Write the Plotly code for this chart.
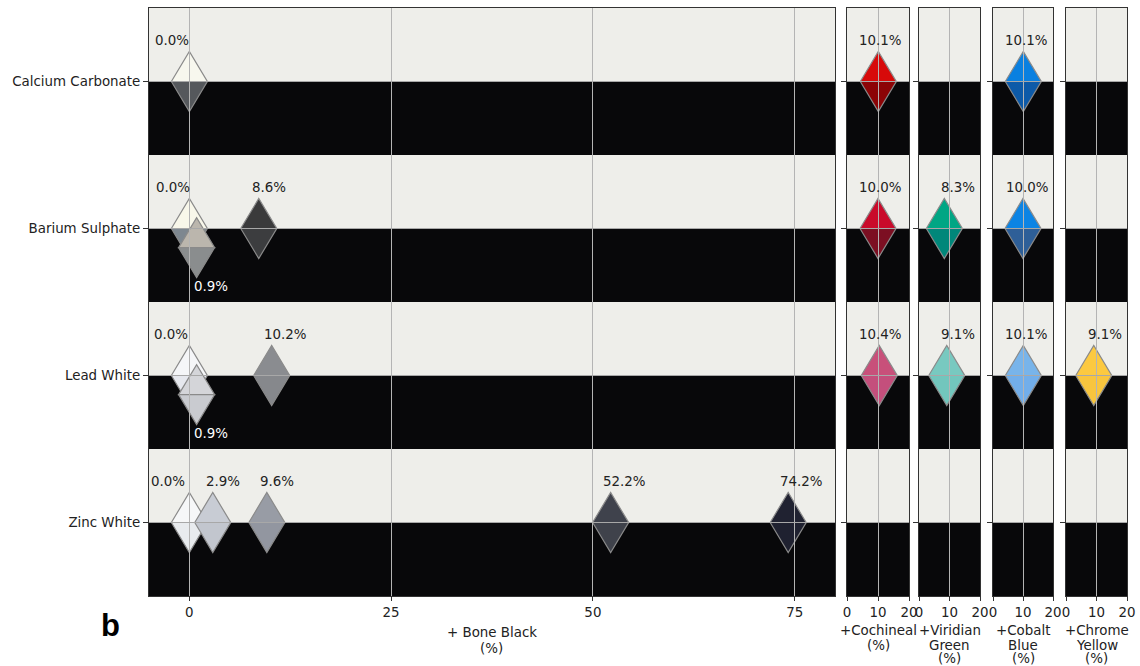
import plotly.graph_objects as go

# ---------------- data ----------------
rows = ["Calcium Carbonate", "Barium Sulphate", "Lead White", "Zinc White"]

# + Bone Black
bb_base = ["Calcium Carbonate", "Barium Sulphate", "Barium Sulphate", "Barium Sulphate",
           "Lead White", "Lead White", "Lead White",
           "Zinc White", "Zinc White", "Zinc White", "Zinc White", "Zinc White"]
bb_pct = [0.0, 0.0, 0.9, 8.6, 0.0, 0.9, 10.2, 0.0, 2.9, 9.6, 52.2, 74.2]
bb_top = ["#f7f7ee", "#f8f7ea", "#bbb6ad", "#3a3a3b", "#f5f6f8", "#d4d5d9", "#8a8c90",
          "#f6f7f8", "#c8ccd4", "#989ca5", "#3f424c", "#202231"]
bb_bottom = ["#55585c", "#7d8790", "#8a8d8e", "#3c3d3f", "#e6e8ee", "#c9cbd0", "#86888c",
             "#e8ebee", "#c2c6ce", "#9296a0", "#3f424b", "#1f2130"]
bb_staggered = [False, False, True, False, False, True, False, False, False, False, False, False]

# + Cochineal
co_base = ["Calcium Carbonate", "Barium Sulphate", "Lead White"]
co_pct = [10.1, 10.0, 10.4]
co_top = ["#d70a0a", "#c90a2a", "#c8507a"]
co_bottom = ["#8c0406", "#7c0f22", "#c44f7c"]

# + Viridian Green
vg_base = ["Barium Sulphate", "Lead White"]
vg_pct = [8.3, 9.1]
vg_top = ["#00a684", "#78c9c0"]
vg_bottom = ["#00877a", "#72c6bd"]

# + Cobalt Blue
cb_base = ["Calcium Carbonate", "Barium Sulphate", "Lead White"]
cb_pct = [10.1, 10.0, 10.1]
cb_top = ["#0a80e0", "#0c84e4", "#78b4ea"]
cb_bottom = ["#0d5aa8", "#2e5f98", "#72aeea"]

# + Chrome Yellow
cy_base = ["Lead White"]
cy_pct = [9.1]
cy_top = ["#fcc940"]
cy_bottom = ["#f8c53e"]

main_ticks = [0, 25, 50, 75]
small_ticks = [0, 10, 20]

# label nudges (pixels) to keep percentage labels readable
bb_label_dx = [-17, -16, 14, 10, -18, 14, 14, -21, 10, 10, 14, 13]
co_label_dx = [2, 2, 1]
vg_label_dx = [14, 11]
cb_label_dx = [3, 4, 3]
cy_label_dx = [11]

panels = [
    dict(base=bb_base, pct=bb_pct, top=bb_top, bot=bb_bottom, stag=bb_staggered, dx=bb_label_dx,
         rng=[-5, 80], ticks=main_ticks, title=["+ Bone Black", "(%)"], dom=[149, 835]),
    dict(base=co_base, pct=co_pct, top=co_top, bot=co_bottom, stag=[False] * 3, dx=co_label_dx,
         rng=[0, 20], ticks=small_ticks, title=["+Cochineal", "(%)"], dom=[847, 909]),
    dict(base=vg_base, pct=vg_pct, top=vg_top, bot=vg_bottom, stag=[False] * 2, dx=vg_label_dx,
         rng=[0, 20], ticks=small_ticks, title=["+Viridian", "Green", "(%)"], dom=[919, 980]),
    dict(base=cb_base, pct=cb_pct, top=cb_top, bot=cb_bottom, stag=[False] * 3, dx=cb_label_dx,
         rng=[0, 20], ticks=small_ticks, title=["+Cobalt", "Blue", "(%)"], dom=[993, 1053]),
    dict(base=cy_base, pct=cy_pct, top=cy_top, bot=cy_bottom, stag=[False], dx=cy_label_dx,
         rng=[0, 20], ticks=small_ticks, title=["+Chrome", "Yellow", "(%)"], dom=[1066, 1127]),
]

W, H = 1140, 666
FONT = "DejaVu Sans"
FS = 13.4
TXT = "#222222"
LIGHT = "#eeeeea"
DARK = "#08080a"
HW, HH = 18, 30          # diamond half width / half height (px)
STAGGER = 0.13           # downward offset (row units) for overlapping points
YDOM = [1 - 596 / H, 1 - 8 / H]

fig = go.Figure()
shapes = []
annotations = []
layout = {}

for i, p in enumerate(panels, start=1):
    xa = "x" if i == 1 else f"x{i}"
    ya = "y" if i == 1 else f"y{i}"
    xkey = "xaxis" if i == 1 else f"xaxis{i}"
    ykey = "yaxis" if i == 1 else f"yaxis{i}"
    dom = [p["dom"][0] / W, p["dom"][1] / W]

    layout[xkey] = dict(domain=dom, range=p["rng"], anchor=ya, tickmode="array",
                        tickvals=p["ticks"], showgrid=True, gridcolor="#b4b4b4", gridwidth=1,
                        zeroline=False, showline=True, mirror=True, linecolor="#333333",
                        linewidth=1, ticks="outside", ticklen=4, tickcolor="#333333",
                        tickfont=dict(family=FONT, size=FS, color=TXT),
                        automargin=False, fixedrange=True)
    layout[ykey] = dict(domain=YDOM, range=[3.5, -0.5], anchor=xa, tickmode="array",
                        tickvals=list(range(len(rows))), ticktext=rows,
                        showticklabels=(i == 1), showgrid=True, gridcolor="#a8a8a8",
                        gridwidth=1, zeroline=False, showline=True, mirror=True,
                        linecolor="#333333", linewidth=1, ticks="outside", ticklen=5,
                        tickcolor="#333333",
                        tickfont=dict(family=FONT, size=FS, color=TXT),
                        automargin=False, fixedrange=True)

    # axis title lines
    cx = (dom[0] + dom[1]) / 2
    line_y = [632, 648] if i == 1 else [630, 645, 658]
    for t, py in zip(p["title"], line_y):
        annotations.append(dict(x=cx, y=1 - py / H, xref="paper", yref="paper", text=t,
                                showarrow=False, xanchor="center", yanchor="middle",
                                font=dict(family=FONT, size=FS, color=TXT)))

    # background bands: light (on white ground) above, black below each row line
    for r in range(len(rows)):
        shapes.append(dict(type="rect", xref=f"{xa} domain", yref=ya, x0=0, x1=1,
                           y0=r - 0.5, y1=r, fillcolor=LIGHT, line_width=0, layer="below"))
        shapes.append(dict(type="rect", xref=f"{xa} domain", yref=ya, x0=0, x1=1,
                           y0=r, y1=r + 0.5, fillcolor=DARK, line_width=0, layer="below"))

    # invisible trace so each subplot exists / hover
    ys = [rows.index(b) + (STAGGER if s else 0) for b, s in zip(p["base"], p["stag"])]
    fig.add_trace(go.Scatter(x=p["pct"], y=ys, xaxis=xa, yaxis=ya, mode="markers",
                             marker=dict(size=20, opacity=0), showlegend=False,
                             text=[f"{b}: {v:.1f}%" for b, v in zip(p["base"], p["pct"])],
                             hoverinfo="text"))

    for v, y, tc, bc, s, dx in zip(p["pct"], ys, p["top"], p["bot"], p["stag"], p["dx"]):
        common = dict(type="path", xref=xa, yref=ya, xsizemode="pixel", ysizemode="pixel",
                      xanchor=v, yanchor=y, line=dict(color="#8a8a8a", width=1.2), layer="below")
        shapes.append(dict(common, path=f"M {-HW},0 L 0,{HH} L {HW},0 Z", fillcolor=tc))
        shapes.append(dict(common, path=f"M {-HW},0 L 0,{-HH} L {HW},0 Z", fillcolor=bc))
        if s:
            annotations.append(dict(x=v, y=y, xref=xa, yref=ya, text=f"{v:.1f}%",
                                    showarrow=False, xshift=dx, yshift=-39,
                                    font=dict(family=FONT, size=FS, color="white")))
        else:
            annotations.append(dict(x=v, y=y, xref=xa, yref=ya, text=f"{v:.1f}%",
                                    showarrow=False, xshift=dx, yshift=41,
                                    font=dict(family=FONT, size=FS, color=TXT)))

annotations.append(dict(x=110 / W, y=1 - 625 / H, xref="paper", yref="paper", text="<b>b</b>",
                        showarrow=False, xanchor="center", yanchor="middle",
                        font=dict(family="Liberation Sans", size=31, color="black")))

fig.update_layout(**layout)
fig.update_layout(width=W, height=H, margin=dict(l=0, r=0, t=0, b=0, autoexpand=False),
                  paper_bgcolor="white", plot_bgcolor="white", shapes=shapes,
                  annotations=annotations, showlegend=False)

fig.write_html("out.html", config={"displayModeBar": False},
               post_script="document.body.style.margin='0px';document.body.style.overflow='hidden';")
